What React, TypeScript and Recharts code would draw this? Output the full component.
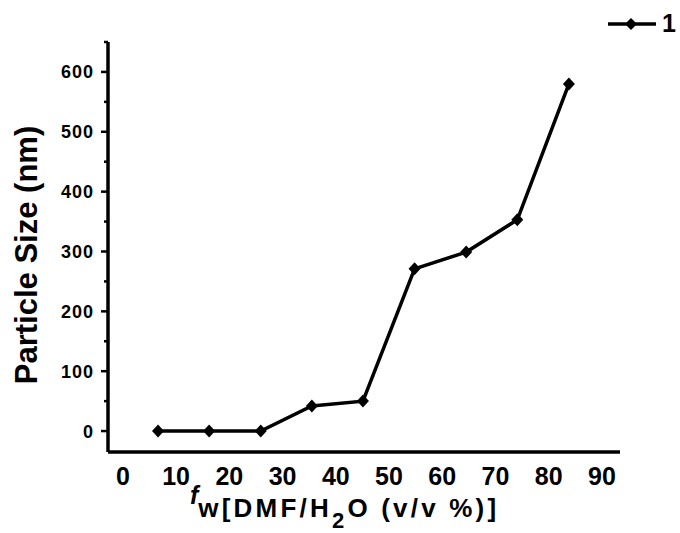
import { LineChart, Line, XAxis, YAxis, Legend } from 'recharts'

const waterFraction = [6.6, 16.2, 25.9, 35.5, 45.1, 54.8, 64.5, 74.1, 83.8]
const particleSize = [0, 0, 0, 42, 50, 271, 299, 353, 580]
const xTicks = [0, 10, 20, 30, 40, 50, 60, 70, 80, 90]
const yTicks = [0, 50, 100, 150, 200, 250, 300, 350, 400, 450, 500, 550, 600, 650]
const seriesName = '1'

const FONT = '"Liberation Sans", Arial, Helvetica, sans-serif'

const data = waterFraction.map((x, i) => ({ x, size: particleSize[i] }))

function Diamond(props: any) {
  const { cx, cy } = props
  if (cx == null || cy == null) return null
  return (
    <polygon
      points={`${cx},${cy - 6.5} ${cx + 6},${cy} ${cx},${cy + 6.5} ${cx - 6},${cy}`}
      fill="#000"
    />
  )
}

function YTick(props: any) {
  const { x, y, payload } = props
  const major = payload.value % 100 === 0
  return (
    <g>
      <line x1={x - (major ? 7 : 4)} x2={x} y1={y} y2={y} stroke="#000" strokeWidth={2.5} />
      {major && (
        <text
          x={x - 14}
          y={y}
          dy="0.36em"
          textAnchor="end"
          fontFamily={FONT}
          fontWeight="bold"
          fontSize={18}
          letterSpacing={1}
          fill="#000"
        >
          {payload.value}
        </text>
      )}
    </g>
  )
}

function XTick(props: any) {
  const { x, y, payload } = props
  return (
    <text
      x={x}
      y={y + 33}
      textAnchor="middle"
      fontFamily={FONT}
      fontWeight="bold"
      fontSize={25}
      fill="#000"
    >
      {payload.value}
    </text>
  )
}

function XTitle(props: any) {
  const { viewBox } = props
  const x = viewBox.x + 82
  const y = viewBox.y + 65
  return (
    <text x={x} y={y} fontFamily={FONT} fontWeight="bold" fontSize={26} letterSpacing={3.2} fill="#000">
      <tspan fontStyle="italic" fontSize={25} dy={-13} letterSpacing={0}>f</tspan>
      <tspan dy={13}>w[DMF/H</tspan>
      <tspan fontSize={22} dy={11}>2</tspan>
      <tspan dy={-11}>O (v/v %)]</tspan>
    </text>
  )
}

function YTitle() {
  return (
    <text
      x={37}
      y={255}
      transform="rotate(-90, 37, 255)"
      textAnchor="middle"
      fontFamily={FONT}
      fontWeight="bold"
      fontSize={31}
      fill="#000"
    >
      Particle Size (nm)
    </text>
  )
}

function LegendBox() {
  return (
    <svg width={90} height={34} style={{ display: 'block', overflow: 'visible' }}>
      <line x1={18} x2={66} y1={24} y2={24} stroke="#000" strokeWidth={3.5} />
      <polygon points="41,18 47,24 41,30 35,24" fill="#000" />
      <text x={72} y={32} fontFamily={FONT} fontWeight="bold" fontSize={25} fill="#000">
        {seriesName}
      </text>
    </svg>
  )
}

export default function App() {
  return (
    <div style={{ position: 'absolute', left: 0, top: 0, background: '#fff' }}>
      <LineChart width={680} height={533} data={data} margin={{ top: 8, right: 60, bottom: 0, left: 0 }}>
        <Legend
          verticalAlign="top"
          align="right"
          content={() => <LegendBox />}
          wrapperStyle={{ top: 0, right: 0, width: 90, height: 34 }}
        />
        <XAxis
          type="number"
          dataKey="x"
          domain={[-2.8, 93.4]}
          ticks={xTicks}
          interval={0}
          allowDataOverflow
          height={81}
          tickLine={false}
          tickSize={0}
          tickMargin={0}
          tick={<XTick />}
          axisLine={{ stroke: '#000', strokeWidth: 3.5 }}
          label={{ content: <XTitle /> } as any}
        />
        <YAxis
          type="number"
          domain={[-35, 650]}
          ticks={yTicks}
          interval={0}
          allowDataOverflow
          width={108}
          tickLine={false}
          tickSize={0}
          tickMargin={0}
          tick={<YTick />}
          axisLine={{ stroke: '#000', strokeWidth: 3.5 }}
          label={{ content: <YTitle /> } as any}
        />
        <Line
          type="linear"
          dataKey="size"
          name={seriesName}
          stroke="#000"
          strokeWidth={3.5}
          dot={<Diamond />}
          activeDot={false}
          isAnimationActive={false}
        />
      </LineChart>
    </div>
  )
}
